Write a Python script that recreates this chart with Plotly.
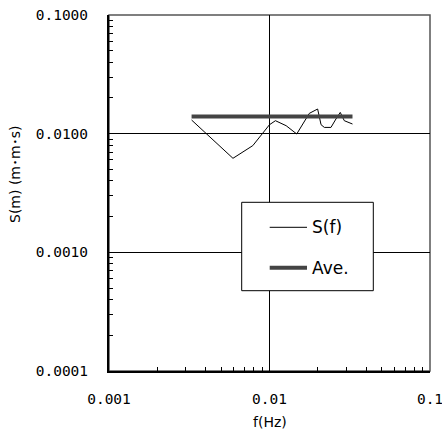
import plotly.graph_objects as go

# Data
freq = [0.00327, 0.00592, 0.00787, 0.0100, 0.01089, 0.0127, 0.01478, 0.0177,
        0.01995, 0.02095, 0.02196, 0.02415, 0.02594, 0.0276, 0.02924, 0.03289]
s_f = [0.01303, 0.0062, 0.00793, 0.0119, 0.01286, 0.01167, 0.00994, 0.01482,
       0.01614, 0.0119, 0.01129, 0.01129, 0.01329, 0.0151, 0.01286, 0.01206]
ave_f = [0.00327, 0.03289]
ave_s = [0.01396, 0.01396]

x_ticks = [0.001, 0.01, 0.1]
x_ticktext = ["0.001", "0.01", "0.1"]
y_ticks = [0.0001, 0.001, 0.01, 0.1]
y_ticktext = ["0.0001", "0.0010", "0.0100", "0.1000"]

series_names = ["S(f)", "Ave."]
x_title = "f(Hz)"
y_title = "S(m) (m･m･s)"

tick_font = "DejaVu Sans Mono, monospace"
text_font = "DejaVu Sans, Noto Sans CJK JP, sans-serif"

# plot area in window px is x 109..430, y 15..371
PX0, PX1, PY0, PY1 = 109, 430, 15, 371
PW, PH = PX1 - PX0, PY1 - PY0

def px(x):
    return (x - PX0) / PW

def py(y):
    return (PY1 - y) / PH

def minor_vals(lo_exp, hi_exp):
    vals = []
    for e in range(lo_exp, hi_exp):
        for d in range(2, 10):
            vals.append(d * 10 ** e)
    return vals

fig = go.Figure()
fig.add_trace(go.Scatter(x=freq, y=s_f, mode="lines", name=series_names[0],
                         line=dict(color="black", width=1), showlegend=False))
fig.add_trace(go.Scatter(x=ave_f, y=ave_s, mode="lines", name=series_names[1],
                         line=dict(color="#444444", width=4), showlegend=False))

axis_common = dict(type="log", showline=True, linecolor="black", linewidth=2,
                   ticks="inside", ticklen=6, tickcolor="black", tickwidth=1,
                   showgrid=True, gridcolor="black", gridwidth=1, zeroline=False,
                   automargin=False, ticklabeloverflow="allow",
                   tickfont=dict(family=tick_font, size=14.5, color="black"))

fig.update_xaxes(range=[-3, -1], tickvals=x_ticks, ticktext=x_ticktext,
                 ticklabelstandoff=14,
                 minor=dict(tickvals=minor_vals(-3, -1), ticks="inside", ticklen=4,
                            tickcolor="black", showgrid=False),
                 **axis_common)
fig.update_yaxes(range=[-4, -1], tickvals=y_ticks, ticktext=y_ticktext,
                 ticklabelstandoff=16,
                 minor=dict(tickvals=minor_vals(-4, -1), ticks="inside", ticklen=4,
                            tickcolor="black", showgrid=False),
                 **axis_common)

# top/right frame
fig.add_shape(type="rect", xref="paper", yref="paper", x0=0, x1=1, y0=0, y1=1,
              line=dict(color="#555555", width=1.5), layer="below")

# axis titles
fig.add_annotation(text=x_title, xref="paper", yref="paper", x=px(270), y=py(422),
                   showarrow=False, xanchor="center", yanchor="middle",
                   font=dict(family=text_font, size=14, color="black"))
fig.add_annotation(text=y_title, xref="paper", yref="paper", x=px(15), y=py(175),
                   showarrow=False, xanchor="center", yanchor="middle",
                   textangle=-90, font=dict(family=text_font, size=14, color="black"))

# legend box (drawn manually to match the reference layout)
fig.add_shape(type="rect", xref="paper", yref="paper", x0=px(241.7), x1=px(373.3),
              y0=py(290.7), y1=py(202.3),
              line=dict(color="black", width=1), fillcolor="white", layer="above")
rows = [py(227.3), py(267.7)]
styles = [dict(color="black", width=1), dict(color="#444444", width=4)]
for name, yy, st in zip(series_names, rows, styles):
    fig.add_shape(type="line", xref="paper", yref="paper", x0=px(269.7), x1=px(307),
                  y0=yy, y1=yy, line=st, layer="above")
    fig.add_annotation(text=name, xref="paper", yref="paper", x=px(310), y=yy,
                       showarrow=False, xanchor="left", yanchor="middle",
                       font=dict(family=text_font, size=17, color="black"))

W, H = 442, 437
fig.update_layout(
    width=W, height=H,
    margin=dict(l=PX0, r=W - PX1, t=PY0, b=H - PY1),
    paper_bgcolor="white", plot_bgcolor="white",
    font=dict(family=text_font, color="black"),
    showlegend=False,
)

fig.write_html("out.html",
               config={"displayModeBar": False, "staticPlot": True},
               post_script="document.body.style.margin='0';document.body.style.overflow='hidden';")
